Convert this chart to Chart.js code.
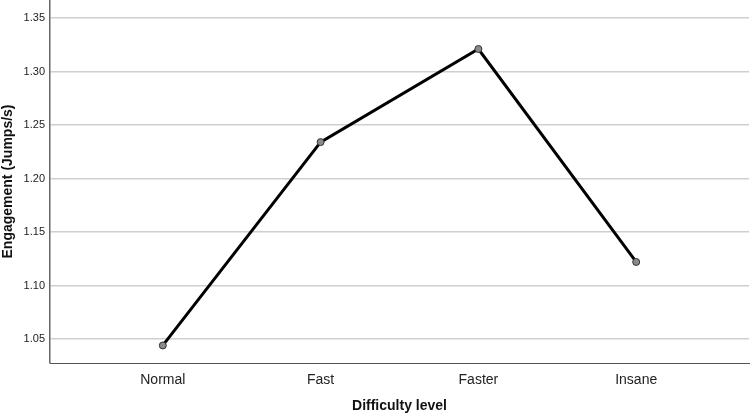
<!DOCTYPE html>
<html><head><meta charset="utf-8">
<script src="https://cdn.jsdelivr.net/npm/chart.js@4"></script>
<style>html,body{margin:0;padding:0;background:#fff}#w{width:750px;height:415px}</style>
</head><body><div id="w"><canvas id="c"></canvas></div>
<script>
const categories = ["Normal", "Fast", "Faster", "Insane"];
const engagement = [1.044, 1.234, 1.321, 1.122];
const yTicks = [1.05, 1.10, 1.15, 1.20, 1.25, 1.30, 1.35];

const font = "'Liberation Sans', Arial, sans-serif";
new Chart(document.getElementById('c'), {
  type: 'line',
  data: {
    datasets: [{
      data: engagement.map((v, i) => ({x: i, y: v})),
      borderColor: '#000',
      borderWidth: 3,
      pointRadius: 3.5,
      pointBackgroundColor: '#8a8a8a',
      pointBorderColor: '#333',
      pointBorderWidth: 1,
      tension: 0
    }]
  },
  options: {
    responsive: true,
    maintainAspectRatio: false,
    animation: false,
    layout: {autoPadding: false, padding: {top: 0, right: 1, left: 0, bottom: 0}},
    plugins: {legend: {display: false}, tooltip: {enabled: false}},
    scales: {
      x: {
        type: 'linear',
        min: -0.715, max: 3.715,
        afterBuildTicks: s => { s.ticks = categories.map((c, i) => ({value: i})); },
        afterFit: s => { s.height = 52; s.paddingLeft = 0; s.paddingRight = 0; },
        grid: {display: false, drawTicks: false},
        border: {display: true, color: '#555', width: 1},
        ticks: {
          callback: v => categories[v],
          color: '#222', padding: 9,
          font: {family: font, size: 14}
        },
        title: {display: true, text: 'Difficulty level', color: '#111',
          font: {family: font, size: 14, weight: 'bold'}, padding: {top: 8, bottom: 0}}
      },
      y: {
        min: 1.0276, max: 1.3668,
        afterBuildTicks: s => { s.ticks = yTicks.map(v => ({value: v})); },
        afterFit: s => { s.width = 50; s.paddingTop = 0; s.paddingBottom = 0; },
        grid: {color: '#cfcfcf', lineWidth: 1.5, drawTicks: false},
        border: {display: true, color: '#666', width: 1.5},
        ticks: {
          callback: v => v.toFixed(2),
          color: '#222', padding: 5,
          font: {family: font, size: 11}
        },
        title: {display: true, text: 'Engagement (Jumps/s)', color: '#111',
          font: {family: font, size: 14, weight: 'bold'}, padding: {top: 0, bottom: 2}}
      }
    }
  }
});
</script></body></html>
